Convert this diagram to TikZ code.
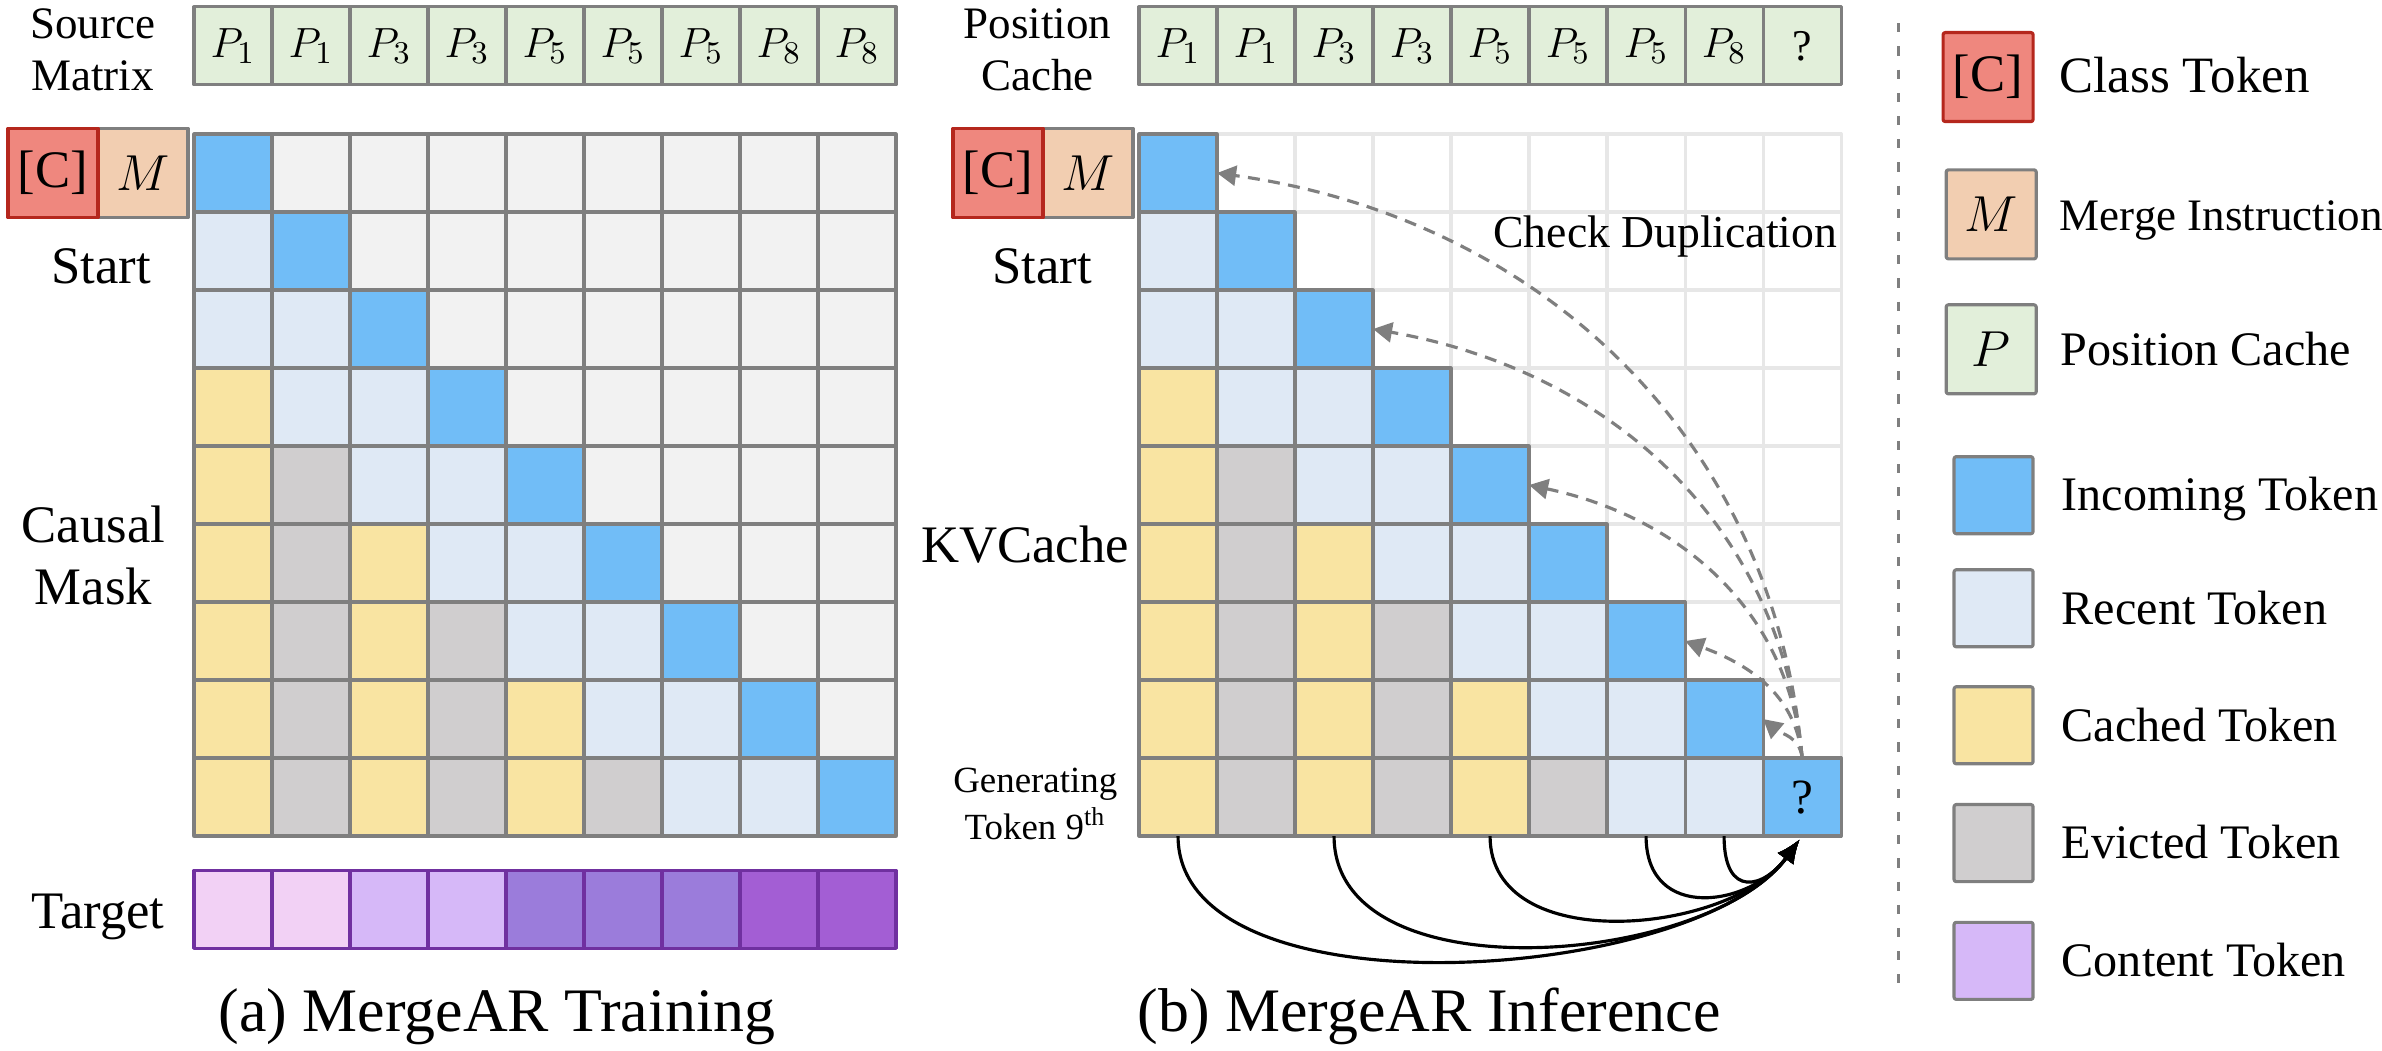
\documentclass[tikz,border=0pt]{standalone}
\usepackage{fontspec}
\setmainfont{Liberation Serif}
\usetikzlibrary{arrows.meta,positioning}

\definecolor{incoming}{HTML}{71BDF7}
\definecolor{recent}{HTML}{DFE9F5}
\definecolor{cached}{HTML}{F9E4A2}
\definecolor{evicted}{HTML}{D0CECF}
\definecolor{unused}{HTML}{F2F2F2}
\definecolor{poscache}{HTML}{E2EFDA}
\definecolor{clsfill}{HTML}{EF877E}
\definecolor{clsline}{HTML}{B5271D}
\definecolor{mrgfill}{HTML}{F2CEB1}
\definecolor{gridline}{HTML}{7F7F7F}
\definecolor{faintline}{HTML}{E7E7E7}
\definecolor{tgtA}{HTML}{F2D1F5}
\definecolor{tgtB}{HTML}{D6B8F8}
\definecolor{tgtC}{HTML}{9B7CDB}
\definecolor{tgtD}{HTML}{A35ED4}
\definecolor{tgtline}{HTML}{7030A0}

\tikzset{
  cell/.style={draw=gridline,line width=0.9pt,minimum width=0.78cm,minimum height=0.78cm,inner sep=0pt,outer sep=0pt},
  tokbox/.style={cell,minimum width=0.9cm,minimum height=0.89cm,font=\fontsize{15}{18}\selectfont},
  keybox/.style={cell,minimum width=0.79cm,minimum height=0.77cm,rounded corners=0.6pt},
  keytext/.style={inner sep=0pt,anchor=west,text height=9pt,text depth=0pt,font=\fontsize{13.7}{16}\selectfont},
  sidelabel/.style={align=center,font=\fontsize{15}{17.5}\selectfont},
  headlabel/.style={align=center,font=\fontsize{12.8}{14.8}\selectfont},
  subcap/.style={anchor=base,font=\fontsize{17.6}{20}\selectfont},
  poscell/.style={cell,fill=poscache,font=\fontsize{12.5}{14}\selectfont},
  dup/.style={draw=gridline,line width=0.9pt,dash pattern=on 3.4pt off 2.4pt,-{Triangle[length=0.19cm,width=0.2cm]}},
  attn/.style={draw=black,line width=0.9pt,-{Latex[length=0.24cm,width=0.2cm]},shorten >=0.04cm}
}

\begin{document}
\begin{tikzpicture}[x=0.78cm,y=0.78cm,line join=round]
  \useasboundingbox (-2.487,-11.744) rectangle (28.05,1.718);

  % (a) training
  \node[headlabel] (srclbl) at (-1.3,1.08) {Source\\Matrix};
  \foreach \c/\t in {1/$P_1$,2/$P_1$,3/$P_3$,4/$P_3$,5/$P_5$,6/$P_5$,7/$P_5$,8/$P_8$,9/$P_8$}
    \node[poscell] (L-p-\c) at (\c-0.5,1.13) {\t};
  \foreach \r in {1,...,9}{
    \foreach \c in {1,...,9}{
      \pgfmathtruncatemacro{\d}{\r-\c}
      \ifnum\d<0 \def\kind{unused}\else\ifnum\d=0 \def\kind{incoming}\else
        \ifnum\d<3 \def\kind{recent}\else\ifodd\c\relax\def\kind{cached}\else\def\kind{evicted}\fi\fi\fi\fi
      \node[cell,fill=\kind] (L-\r-\c) at (\c-0.5,0.5-\r) {};
    }
  }
  \node[tokbox,fill=mrgfill,left=0.06cm of L-1-1] (L-mrg) {$M$};
  \node[tokbox,fill=clsfill,draw=clsline,left=0pt of L-mrg] (L-cls) {[C]};
  \node[sidelabel,anchor=base] (L-start) at (-1.19,-1.91) {Start};
  \node[sidelabel] (L-mask) at (-1.29,-5.40) {Causal\\Mask};
  \node[sidelabel,anchor=base] (L-tgtlbl) at (-1.23,-10.18) {Target};
  \foreach \c/\col in {1/tgtA,2/tgtA,3/tgtB,4/tgtB,5/tgtC,6/tgtC,7/tgtC,8/tgtD,9/tgtD}
    \node[cell,draw=tgtline,fill=\col] (L-t-\c) at (\c-0.5,-9.94) {};
  \node[subcap] (L-cap) at (3.885,-11.51) {(a) MergeAR Training};

  % (b) inference
  \begin{scope}[xshift=9.45cm]
    \node[headlabel] (poslbl) at (-1.3,1.08) {Position\\Cache};
    \foreach \c/\t in {1/$P_1$,2/$P_1$,3/$P_3$,4/$P_3$,5/$P_5$,6/$P_5$,7/$P_5$,8/$P_8$,9/?}
      \node[poscell] (R-p-\c) at (\c-0.5,1.13) {\t};
    % empty part first, so the coloured cells keep their dark edges
    \foreach \r in {1,...,9}
      \foreach \c in {1,...,9}{
        \ifnum\c>\r\relax
          \node[cell,draw=faintline,fill=white] (R-\r-\c) at (\c-0.5,0.5-\r) {};
        \fi
      }
    \foreach \r in {1,...,9}
      \foreach \c in {1,...,9}{
        \pgfmathtruncatemacro{\d}{\r-\c}
        \ifnum\d<0 \else
          \ifnum\d=0 \def\kind{incoming}\else\ifnum\d<3 \def\kind{recent}\else
            \ifodd\c\relax\def\kind{cached}\else\def\kind{evicted}\fi\fi\fi
          \node[cell,fill=\kind] (R-\r-\c) at (\c-0.5,0.5-\r) {};
        \fi
      }
    \node[font=\fontsize{14}{16}\selectfont] (qmark) at (R-9-9) {?};
    \node[tokbox,fill=mrgfill,left=0.06cm of R-1-1] (R-mrg) {$M$};
    \node[tokbox,fill=clsfill,draw=clsline,left=0pt of R-mrg] (R-cls) {[C]};
    \node[sidelabel,anchor=base] (R-start) at (-1.24,-1.91) {Start};
    \node[sidelabel] (kv) at (-1.46,-5.27) {KVCache};
    \node[align=center,font=\fontsize{10.5}{13.4}\selectfont] (gen) at (-1.33,-8.59) {Generating\\Token 9\textsuperscript{th}};
    \node[anchor=base east,inner sep=0pt,font=\fontsize{13}{15}\selectfont] (chk) at (8.96,-1.45) {Check Duplication};
    % look back for a duplicated position
    \foreach \r/\a in {1/-8,3/-10,5/-12,7/-20,8/-40}
      \draw[dup] (R-9-9.north) to[out=95,in=\a] (R-\r-\r.east);
    % kept keys feed the new token
    \foreach \c/\l in {1/0.75,3/0.88,5/1.0,7/1.43,8/2.1}
      \draw[attn] (R-9-\c.south) to[out=-90,in=234,looseness=\l] (R-9-9.south);
    \node[subcap] (R-cap) at (3.72,-11.51) {(b) MergeAR Inference};
  \end{scope}

  % legend
  \draw[gridline,line width=0.9pt,dash pattern=on 2.6pt off 4pt] (21.85,1.42) -- (21.85,-11.0);
  \node[tokbox,fill=clsfill,draw=clsline,rounded corners=0.6pt] (key-cls) at (23.0,0.73) {[C]};
  \node[keytext,font=\fontsize{14.5}{17}\selectfont,right=0.26cm of key-cls] (txt-cls) {Class Token};
  \node[tokbox,fill=mrgfill,rounded corners=0.6pt] (key-mrg) at (23.04,-1.03) {$M$};
  \node[keytext,font=\fontsize{12.8}{15}\selectfont,right=0.23cm of key-mrg] (txt-mrg) {Merge Instruction};
  \node[tokbox,fill=poscache,rounded corners=0.6pt] (key-pos) at (23.04,-2.76) {$P$};
  \node[keytext,right=0.24cm of key-pos] (txt-pos) {Position Cache};
  \foreach \y/\col/\t in {-4.63/incoming/Incoming Token,-6.08/recent/Recent Token,-7.58/cached/Cached Token,-9.09/evicted/Evicted Token,-10.60/tgtB/Content Token}{
    \node[keybox,fill=\col] (key-\col) at (23.07,\y) {};
    \node[keytext,right=0.28cm of key-\col] (txt-\col) {\t};
  }
\end{tikzpicture}
\end{document}
